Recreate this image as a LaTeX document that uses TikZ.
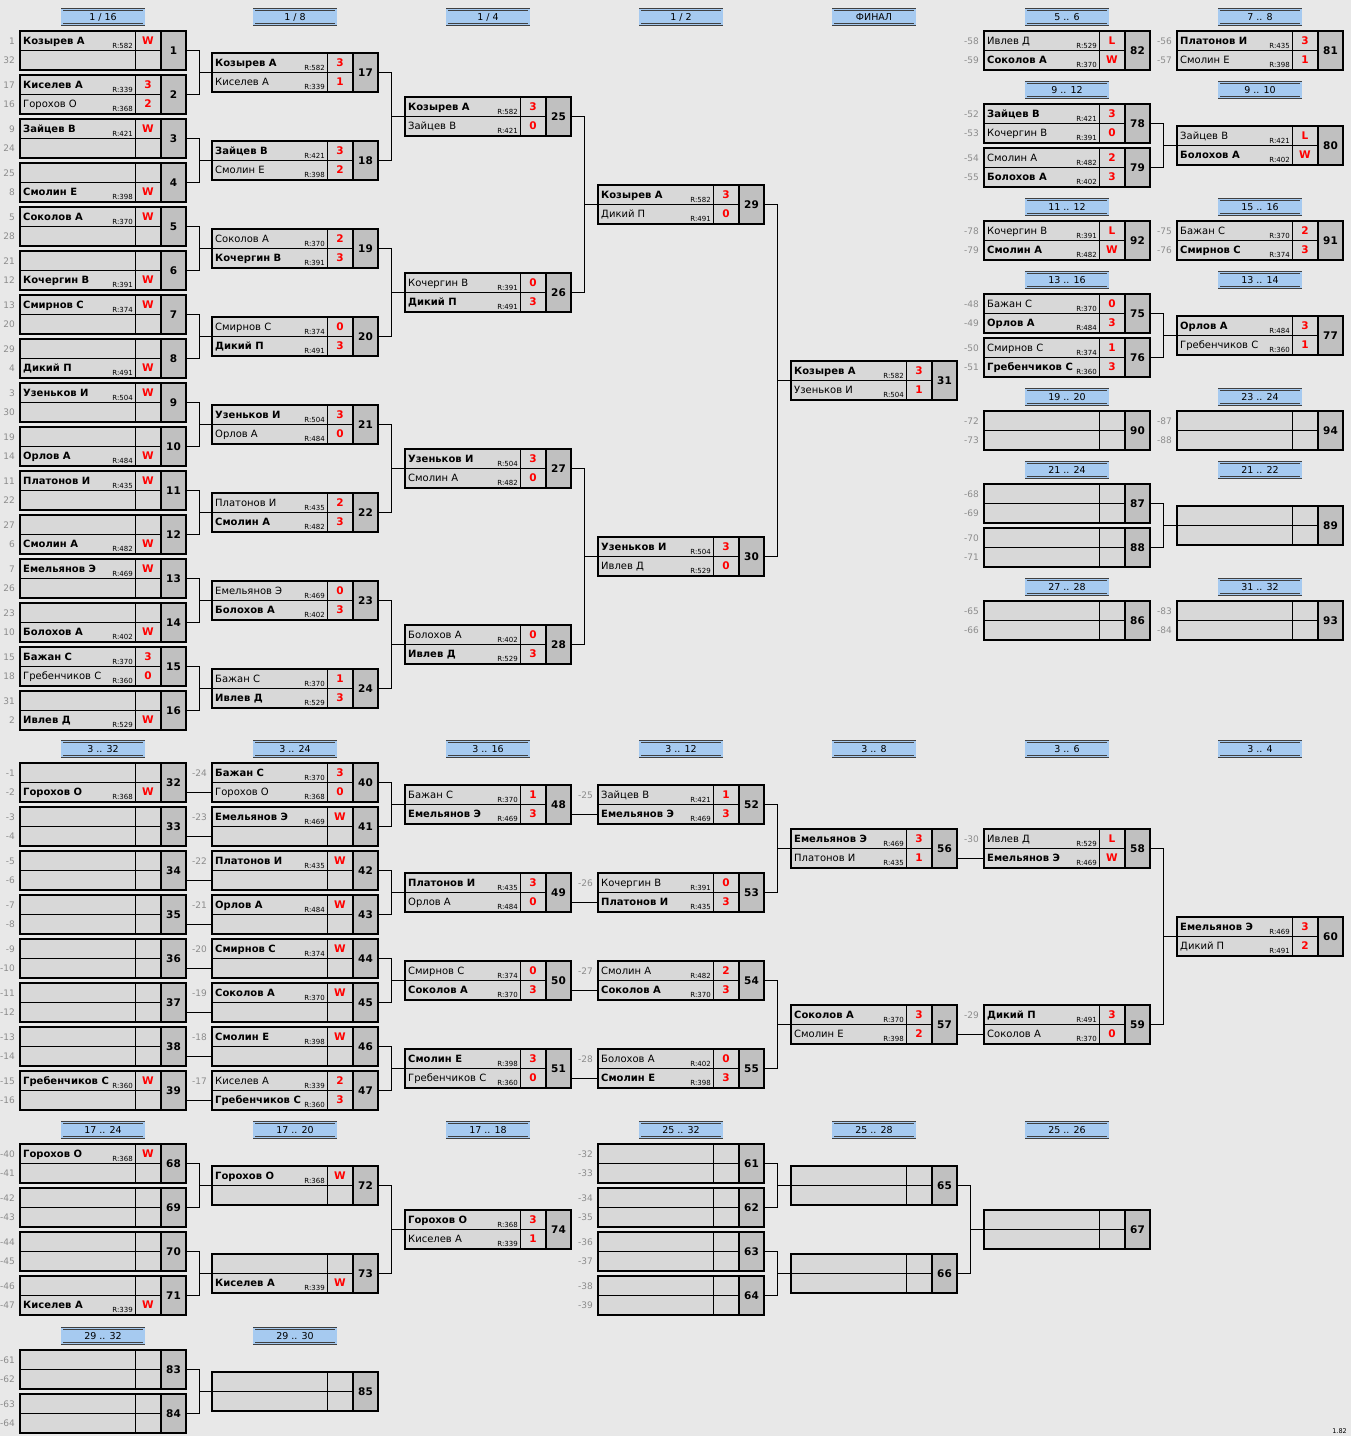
\documentclass[tikz,border=0pt]{standalone}
\usepackage{fontspec}
\setmainfont{DejaVu Sans}
\usepackage{tikz}
\usetikzlibrary{positioning}

\definecolor{pagebg}{HTML}{E8E8E8}
\definecolor{rowbg}{HTML}{D8D8D8}
\definecolor{numbg}{HTML}{C0C0C0}
\definecolor{stagebg}{HTML}{A6CAF0}
\definecolor{seedgray}{HTML}{8C8C8C}

% one match box: number, left x, top y
\newcommand{\game}[3]{%
	\node[gamebox] (g#1) at (#2,#3) {};
	\fill[numbg] ([xshift=-25pt]g#1.north east) rectangle (g#1.south east);
	\coordinate (g#1-1) at ([yshift=9.75pt]g#1.west);
	\coordinate (g#1-2) at ([yshift=-9.75pt]g#1.west);
	\draw[thinrule] (g#1.west) -- ([xshift=-25pt]g#1.east);
	\draw[thinrule] ([xshift=115pt]g#1.north west) -- ([xshift=115pt]g#1.south west);
	\draw[boxrule] ([xshift=-25pt]g#1.north east) -- ([xshift=-25pt]g#1.south east);
	\draw[boxrule] (g#1.north west) rectangle (g#1.south east);
	\node[numtext] (g#1-n) at ([xshift=-12.5pt, yshift=-3.8pt]g#1.east) {#1};
}
% player: game, row, name, rating, score
\newcommand{\plr}[5]{%
	\node[pname] (g#1-p#2) at ([xshift=3pt, yshift=-3.6pt]g#1-#2) {#3};
	\node[prate] (g#1-r#2) at ([xshift=113pt, yshift=-7.5pt]g#1-#2) {R:#4};
	\node[pscore] (g#1-s#2) at ([xshift=128pt, yshift=-3.6pt]g#1-#2) {#5};
}
\newcommand{\wplr}[5]{\plr{#1}{#2}{\bfseries #3}{#4}{#5}}
\newcommand{\seed}[3]{\node[seednum] (g#1-k#2) at ([xshift=-5pt, yshift=-3.3pt]g#1-#2) {#3};}
% winner of #1 goes straight on to row 2 of #2
\newcommand{\feed}[2]{\draw[link] (g#1.east |- g#1-2) -- (g#2-2);}
% #1 and #2 meet in #3
\newcommand{\pairup}[3]{%
	\draw[link] (g#1.east) -- ++(13,0) |- (g#3.west);
	\draw[link] (g#2.east) -- ++(13,0) |- (g#3.west);
}

\begin{document}
\begin{tikzpicture}[x=1pt, y=-1pt,
	gamebox/.style={anchor=north west, fill=rowbg, minimum width=166pt, minimum height=39pt, inner sep=0pt, outer sep=0pt},
	thinrule/.style={line width=1pt},
	boxrule/.style={line width=2pt},
	link/.style={line width=1pt},
	numtext/.style={anchor=base, inner sep=0pt, font=\bfseries\fontsize{10.5}{12}\selectfont},
	pname/.style={anchor=base west, inner sep=0pt, font=\fontsize{10}{12}\selectfont},
	prate/.style={anchor=base east, inner sep=0pt, font=\fontsize{7}{8}\selectfont},
	pscore/.style={anchor=base, inner sep=0pt, text=red, font=\bfseries\fontsize{10.5}{12}\selectfont},
	seednum/.style={anchor=base east, inner sep=0pt, text=seedgray, font=\fontsize{9}{11}\selectfont},
	stage/.style={draw=black!75, line width=0.7pt, double=stagebg, double distance=1.4pt, fill=stagebg,
		minimum width=82pt, minimum height=15pt, inner sep=0pt, font=\fontsize{9.5}{11}\selectfont}]
	\fill[pagebg] (0,0) rectangle (1351,1436);
	\useasboundingbox (0,0) rectangle (1351,1436);

	% headers
	\node[stage] (h1) at (103,17) {1 / 16};
	\node[stage] (h2) at (295,17) {1 / 8};
	\node[stage] (h3) at (488,17) {1 / 4};
	\node[stage] (h4) at (681,17) {1 / 2};
	\node[stage] (h5) at (874,17) {ФИНАЛ};
	\node[stage] (h6) at (1067,17) {5 .. 6};
	\node[stage] (h7) at (1260,17) {7 .. 8};
	\node[stage] (h8) at (1067,90) {9 .. 12};
	\node[stage] (h9) at (1260,90) {9 .. 10};
	\node[stage] (h10) at (1067,207) {11 .. 12};
	\node[stage] (h11) at (1260,207) {15 .. 16};
	\node[stage] (h12) at (1067,280) {13 .. 16};
	\node[stage] (h13) at (1260,280) {13 .. 14};
	\node[stage] (h14) at (1067,397) {19 .. 20};
	\node[stage] (h15) at (1260,397) {23 .. 24};
	\node[stage] (h16) at (1067,470) {21 .. 24};
	\node[stage] (h17) at (1260,470) {21 .. 22};
	\node[stage] (h18) at (1067,587) {27 .. 28};
	\node[stage] (h19) at (1260,587) {31 .. 32};
	\node[stage] (h20) at (103,749) {3 .. 32};
	\node[stage] (h21) at (295,749) {3 .. 24};
	\node[stage] (h22) at (488,749) {3 .. 16};
	\node[stage] (h23) at (681,749) {3 .. 12};
	\node[stage] (h24) at (874,749) {3 .. 8};
	\node[stage] (h25) at (1067,749) {3 .. 6};
	\node[stage] (h26) at (1260,749) {3 .. 4};
	\node[stage] (h27) at (103,1130) {17 .. 24};
	\node[stage] (h28) at (295,1130) {17 .. 20};
	\node[stage] (h29) at (488,1130) {17 .. 18};
	\node[stage] (h30) at (681,1130) {25 .. 32};
	\node[stage] (h31) at (874,1130) {25 .. 28};
	\node[stage] (h32) at (1067,1130) {25 .. 26};
	\node[stage] (h33) at (103,1336) {29 .. 32};
	\node[stage] (h34) at (295,1336) {29 .. 30};

	% main draw
	\foreach \i in {1,...,16} {\pgfmathtruncatemacro\y{31+44*(\i-1)} \game{\i}{20}{\y}}
	\foreach \i in {17,...,24} {\pgfmathtruncatemacro\y{53+88*(\i-17)} \game{\i}{212}{\y}}
	\foreach \i in {25,...,28} {\pgfmathtruncatemacro\y{97+176*(\i-25)} \game{\i}{405}{\y}}
	\game{29}{598}{185}
	\game{30}{598}{537}
	\game{31}{791}{361}
	\foreach \i/\a/\b in {1/1/32, 2/17/16, 3/9/24, 4/25/8, 5/5/28, 6/21/12, 7/13/20, 8/29/4,
		9/3/30, 10/19/14, 11/11/22, 12/27/6, 13/7/26, 14/23/10, 15/15/18, 16/31/2}
		{\seed{\i}{1}{\a}\seed{\i}{2}{\b}}
	\foreach \i in {1,...,8} {\pgfmathtruncatemacro\a{2*\i-1} \pgfmathtruncatemacro\b{2*\i}
		\pgfmathtruncatemacro\c{16+\i} \pairup{\a}{\b}{\c}}
	\pairup{17}{18}{25} \pairup{19}{20}{26} \pairup{21}{22}{27} \pairup{23}{24}{28}
	\pairup{25}{26}{29} \pairup{27}{28}{30} \pairup{29}{30}{31}

	\wplr{1}{1}{Козырев А}{582}{W}
	\wplr{2}{1}{Киселев А}{339}{3} \plr{2}{2}{Горохов О}{368}{2}
	\wplr{3}{1}{Зайцев В}{421}{W}
	\wplr{4}{2}{Смолин Е}{398}{W}
	\wplr{5}{1}{Соколов А}{370}{W}
	\wplr{6}{2}{Кочергин В}{391}{W}
	\wplr{7}{1}{Смирнов С}{374}{W}
	\wplr{8}{2}{Дикий П}{491}{W}
	\wplr{9}{1}{Узеньков И}{504}{W}
	\wplr{10}{2}{Орлов А}{484}{W}
	\wplr{11}{1}{Платонов И}{435}{W}
	\wplr{12}{2}{Смолин А}{482}{W}
	\wplr{13}{1}{Емельянов Э}{469}{W}
	\wplr{14}{2}{Болохов А}{402}{W}
	\wplr{15}{1}{Бажан С}{370}{3} \plr{15}{2}{Гребенчиков С}{360}{0}
	\wplr{16}{2}{Ивлев Д}{529}{W}
	\wplr{17}{1}{Козырев А}{582}{3} \plr{17}{2}{Киселев А}{339}{1}
	\wplr{18}{1}{Зайцев В}{421}{3} \plr{18}{2}{Смолин Е}{398}{2}
	\plr{19}{1}{Соколов А}{370}{2} \wplr{19}{2}{Кочергин В}{391}{3}
	\plr{20}{1}{Смирнов С}{374}{0} \wplr{20}{2}{Дикий П}{491}{3}
	\wplr{21}{1}{Узеньков И}{504}{3} \plr{21}{2}{Орлов А}{484}{0}
	\plr{22}{1}{Платонов И}{435}{2} \wplr{22}{2}{Смолин А}{482}{3}
	\plr{23}{1}{Емельянов Э}{469}{0} \wplr{23}{2}{Болохов А}{402}{3}
	\plr{24}{1}{Бажан С}{370}{1} \wplr{24}{2}{Ивлев Д}{529}{3}
	\wplr{25}{1}{Козырев А}{582}{3} \plr{25}{2}{Зайцев В}{421}{0}
	\plr{26}{1}{Кочергин В}{391}{0} \wplr{26}{2}{Дикий П}{491}{3}
	\wplr{27}{1}{Узеньков И}{504}{3} \plr{27}{2}{Смолин А}{482}{0}
	\plr{28}{1}{Болохов А}{402}{0} \wplr{28}{2}{Ивлев Д}{529}{3}
	\wplr{29}{1}{Козырев А}{582}{3} \plr{29}{2}{Дикий П}{491}{0}
	\wplr{30}{1}{Узеньков И}{504}{3} \plr{30}{2}{Ивлев Д}{529}{0}
	\wplr{31}{1}{Козырев А}{582}{3} \plr{31}{2}{Узеньков И}{504}{1}

	% places 5..32 beside the main draw
	\foreach \i/\x/\y/\a/\b in {82/984/31/-58/-59, 81/1177/31/-56/-57, 78/984/104/-52/-53, 79/984/148/-54/-55,
		92/984/221/-78/-79, 91/1177/221/-75/-76, 75/984/294/-48/-49, 76/984/338/-50/-51,
		90/984/411/-72/-73, 94/1177/411/-87/-88, 87/984/484/-68/-69, 88/984/528/-70/-71,
		86/984/601/-65/-66, 93/1177/601/-83/-84}
		{\game{\i}{\x}{\y}\seed{\i}{1}{\a}\seed{\i}{2}{\b}}
	\game{80}{1177}{126}
	\game{77}{1177}{316}
	\game{89}{1177}{506}
	\pairup{78}{79}{80} \pairup{75}{76}{77} \pairup{87}{88}{89}

	\plr{82}{1}{Ивлев Д}{529}{L} \wplr{82}{2}{Соколов А}{370}{W}
	\wplr{81}{1}{Платонов И}{435}{3} \plr{81}{2}{Смолин Е}{398}{1}
	\wplr{78}{1}{Зайцев В}{421}{3} \plr{78}{2}{Кочергин В}{391}{0}
	\plr{79}{1}{Смолин А}{482}{2} \wplr{79}{2}{Болохов А}{402}{3}
	\plr{80}{1}{Зайцев В}{421}{L} \wplr{80}{2}{Болохов А}{402}{W}
	\plr{92}{1}{Кочергин В}{391}{L} \wplr{92}{2}{Смолин А}{482}{W}
	\plr{91}{1}{Бажан С}{370}{2} \wplr{91}{2}{Смирнов С}{374}{3}
	\plr{75}{1}{Бажан С}{370}{0} \wplr{75}{2}{Орлов А}{484}{3}
	\plr{76}{1}{Смирнов С}{374}{1} \wplr{76}{2}{Гребенчиков С}{360}{3}
	\wplr{77}{1}{Орлов А}{484}{3} \plr{77}{2}{Гребенчиков С}{360}{1}

	% consolation draw for 3rd place
	\foreach \i in {32,...,39} {\pgfmathtruncatemacro\y{763+44*(\i-32)} \pgfmathtruncatemacro\j{\i+8}
		\pgfmathtruncatemacro\a{-(2*(\i-32)+1)} \pgfmathtruncatemacro\b{\a-1} \pgfmathtruncatemacro\c{\i-56}
		\game{\i}{20}{\y} \game{\j}{212}{\y} \feed{\i}{\j}
		\seed{\i}{1}{\a}\seed{\i}{2}{\b}\seed{\j}{1}{\c}}
	\foreach \i in {48,...,51} {\pgfmathtruncatemacro\y{785+88*(\i-48)} \pgfmathtruncatemacro\j{\i+4}
		\pgfmathtruncatemacro\c{23-\i}
		\game{\i}{405}{\y} \game{\j}{598}{\y} \feed{\i}{\j} \seed{\j}{1}{\c}}
	\game{56}{791}{829}
	\game{57}{791}{1005}
	\game{58}{984}{829}
	\game{59}{984}{1005}
	\game{60}{1177}{917}
	\seed{58}{1}{-30} \seed{59}{1}{-29}
	\pairup{40}{41}{48} \pairup{42}{43}{49} \pairup{44}{45}{50} \pairup{46}{47}{51}
	\pairup{52}{53}{56} \pairup{54}{55}{57}
	\feed{56}{58} \feed{57}{59}
	\pairup{58}{59}{60}

	\wplr{32}{2}{Горохов О}{368}{W}
	\wplr{39}{1}{Гребенчиков С}{360}{W}
	\wplr{40}{1}{Бажан С}{370}{3} \plr{40}{2}{Горохов О}{368}{0}
	\wplr{41}{1}{Емельянов Э}{469}{W}
	\wplr{42}{1}{Платонов И}{435}{W}
	\wplr{43}{1}{Орлов А}{484}{W}
	\wplr{44}{1}{Смирнов С}{374}{W}
	\wplr{45}{1}{Соколов А}{370}{W}
	\wplr{46}{1}{Смолин Е}{398}{W}
	\plr{47}{1}{Киселев А}{339}{2} \wplr{47}{2}{Гребенчиков С}{360}{3}
	\plr{48}{1}{Бажан С}{370}{1} \wplr{48}{2}{Емельянов Э}{469}{3}
	\wplr{49}{1}{Платонов И}{435}{3} \plr{49}{2}{Орлов А}{484}{0}
	\plr{50}{1}{Смирнов С}{374}{0} \wplr{50}{2}{Соколов А}{370}{3}
	\wplr{51}{1}{Смолин Е}{398}{3} \plr{51}{2}{Гребенчиков С}{360}{0}
	\plr{52}{1}{Зайцев В}{421}{1} \wplr{52}{2}{Емельянов Э}{469}{3}
	\plr{53}{1}{Кочергин В}{391}{0} \wplr{53}{2}{Платонов И}{435}{3}
	\plr{54}{1}{Смолин А}{482}{2} \wplr{54}{2}{Соколов А}{370}{3}
	\plr{55}{1}{Болохов А}{402}{0} \wplr{55}{2}{Смолин Е}{398}{3}
	\wplr{56}{1}{Емельянов Э}{469}{3} \plr{56}{2}{Платонов И}{435}{1}
	\wplr{57}{1}{Соколов А}{370}{3} \plr{57}{2}{Смолин Е}{398}{2}
	\plr{58}{1}{Ивлев Д}{529}{L} \wplr{58}{2}{Емельянов Э}{469}{W}
	\wplr{59}{1}{Дикий П}{491}{3} \plr{59}{2}{Соколов А}{370}{0}
	\wplr{60}{1}{Емельянов Э}{469}{3} \plr{60}{2}{Дикий П}{491}{2}

	% places 17..32
	\foreach \k in {0,...,3} {\pgfmathtruncatemacro\y{1144+44*\k}
		\pgfmathtruncatemacro\i{68+\k} \pgfmathtruncatemacro\j{61+\k}
		\pgfmathtruncatemacro\a{-(40+2*\k)} \pgfmathtruncatemacro\b{\a-1}
		\pgfmathtruncatemacro\c{-(32+2*\k)} \pgfmathtruncatemacro\d{\c-1}
		\game{\i}{20}{\y} \game{\j}{598}{\y}
		\seed{\i}{1}{\a}\seed{\i}{2}{\b}\seed{\j}{1}{\c}\seed{\j}{2}{\d}}
	\game{72}{212}{1166}
	\game{73}{212}{1254}
	\game{74}{405}{1210}
	\game{65}{791}{1166}
	\game{66}{791}{1254}
	\game{67}{984}{1210}
	\pairup{68}{69}{72} \pairup{70}{71}{73} \pairup{72}{73}{74}
	\pairup{61}{62}{65} \pairup{63}{64}{66} \pairup{65}{66}{67}

	\wplr{68}{1}{Горохов О}{368}{W}
	\wplr{71}{2}{Киселев А}{339}{W}
	\wplr{72}{1}{Горохов О}{368}{W}
	\wplr{73}{2}{Киселев А}{339}{W}
	\wplr{74}{1}{Горохов О}{368}{3} \plr{74}{2}{Киселев А}{339}{1}

	% places 29..32
	\game{83}{20}{1350}
	\game{84}{20}{1394}
	\game{85}{212}{1372}
	\seed{83}{1}{-61} \seed{83}{2}{-62} \seed{84}{1}{-63} \seed{84}{2}{-64}
	\pairup{83}{84}{85}

	\node[inner sep=0pt, anchor=base east, font=\fontsize{6.5}{7}\selectfont] (ver) at (1347,1433) {1.82};
\end{tikzpicture}
\end{document}
